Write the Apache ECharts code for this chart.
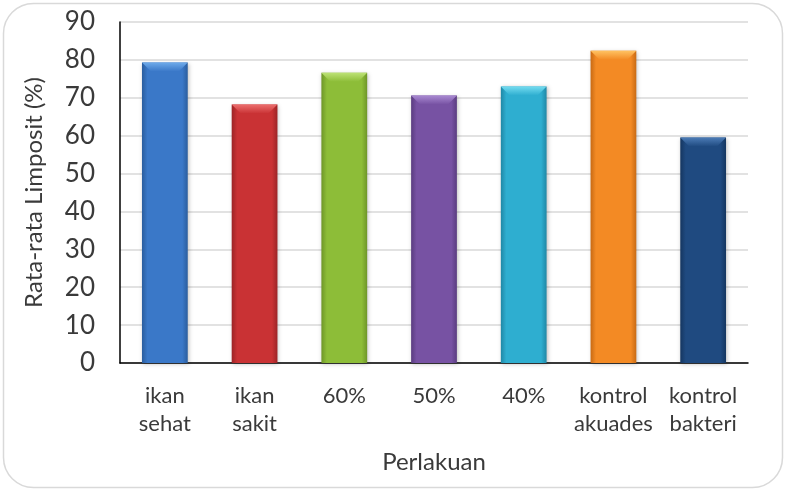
<!DOCTYPE html>
<html>
<head>
<meta charset="utf-8">
<script src="https://cdn.jsdelivr.net/npm/echarts@6/dist/echarts.min.js"></script>
<style>
html,body{margin:0;padding:0;background:#fff;}
#chart{width:788px;height:490px;}
</style>
</head>
<body>
<div id="chart"></div>
<script>
var categories = ['ikan\nsehat', 'ikan\nsakit', '60%', '50%', '40%', 'kontrol\nakuades', 'kontrol\nbakteri'];
var values = [79.3, 68.2, 76.6, 70.6, 73.0, 82.4, 59.5];
var baseColors = ['#3a78c8', '#c93234', '#8dbd38', '#7752a3', '#2eaed0', '#f38a24', '#1f4a80'];
var lightColors = ['#6eaaea', '#ec6e6e', '#bde276', '#a98ad2', '#74dcf0', '#ffc262', '#4c7cb6'];
var darkColors = ['#2a5d9e', '#9c2426', '#6e9628', '#5a3c80', '#1f88a6', '#c86a14', '#153660'];

var FONT = 'Lato';

var myChart = echarts.init(document.getElementById('chart'));

function barColor(i){
	return new echarts.graphic.LinearGradient(0, 0, 1, 0, [
		{offset: 0, color: darkColors[i]},
		{offset: 0.12, color: baseColors[i]},
		{offset: 0.88, color: baseColors[i]},
		{offset: 1, color: darkColors[i]}
	]);
}

var barData = values.map(function(v, i){
	return {value: v, itemStyle: {color: barColor(i)}};
});

var option = {
	animation: false,
	graphic: [{
		type: 'rect',
		shape: {x: 3.5, y: 3.5, width: 779, height: 484, r: 30},
		style: {fill: 'none', stroke: '#d9d9d9', lineWidth: 1.5},
		z: -10
	}],
	grid: {left: 120, right: 40, top: 22, bottom: 127},
	xAxis: {
		type: 'category',
		data: categories,
		name: 'Perlakuan',
		nameLocation: 'middle',
		nameGap: 87,
		nameTextStyle: {fontFamily: FONT, fontSize: 24, color: '#3a3a3a'},
		axisLine: {lineStyle: {color: '#000', width: 1.5}},
		axisTick: {show: false},
		axisLabel: {fontFamily: FONT, fontSize: 22, color: '#3a3a3a', margin: 19, lineHeight: 28, interval: 0}
	},
	yAxis: {
		type: 'value',
		min: 0, max: 90, interval: 10,
		name: 'Rata-rata Limposit (%)',
		nameLocation: 'middle',
		nameGap: 74,
		nameTextStyle: {fontFamily: FONT, fontSize: 24, color: '#3a3a3a'},
		axisLine: {show: true, lineStyle: {color: '#000', width: 1.5}},
		axisTick: {show: false},
		axisLabel: {fontFamily: FONT, fontSize: 26, color: '#3a3a3a', margin: 25},
		splitLine: {lineStyle: {color: '#d9d9d9', width: 1.5}}
	},
	series: [{
		type: 'bar',
		data: barData,
		barWidth: '51%',
		itemStyle: {shadowColor: 'rgba(0,0,0,0.25)', shadowBlur: 4, shadowOffsetX: 1, shadowOffsetY: 1}
	}, {
		// top bevel highlight
		type: 'custom',
		data: values.map(function(v, i){ return [i, v]; }),
		z: 3,
		renderItem: function(params, api){
			var i = params.dataIndex;
			var top = api.coord([api.value(0), api.value(1)]);
			var w = api.size([1, 0])[0] * 0.51;
			var x0 = top[0] - w / 2, x1 = top[0] + w / 2, y = top[1];
			var b = 9;
			return {
				type: 'polygon',
				shape: {points: [[x0, y], [x1, y], [x1 - b, y + b], [x0 + b, y + b]]},
				style: {
					fill: new echarts.graphic.LinearGradient(0, 0, 0, 1, [
						{offset: 0, color: lightColors[i]},
						{offset: 1, color: baseColors[i]}
					])
				}
			};
		}
	}]
};
myChart.setOption(option);
</script>
</body>
</html>
